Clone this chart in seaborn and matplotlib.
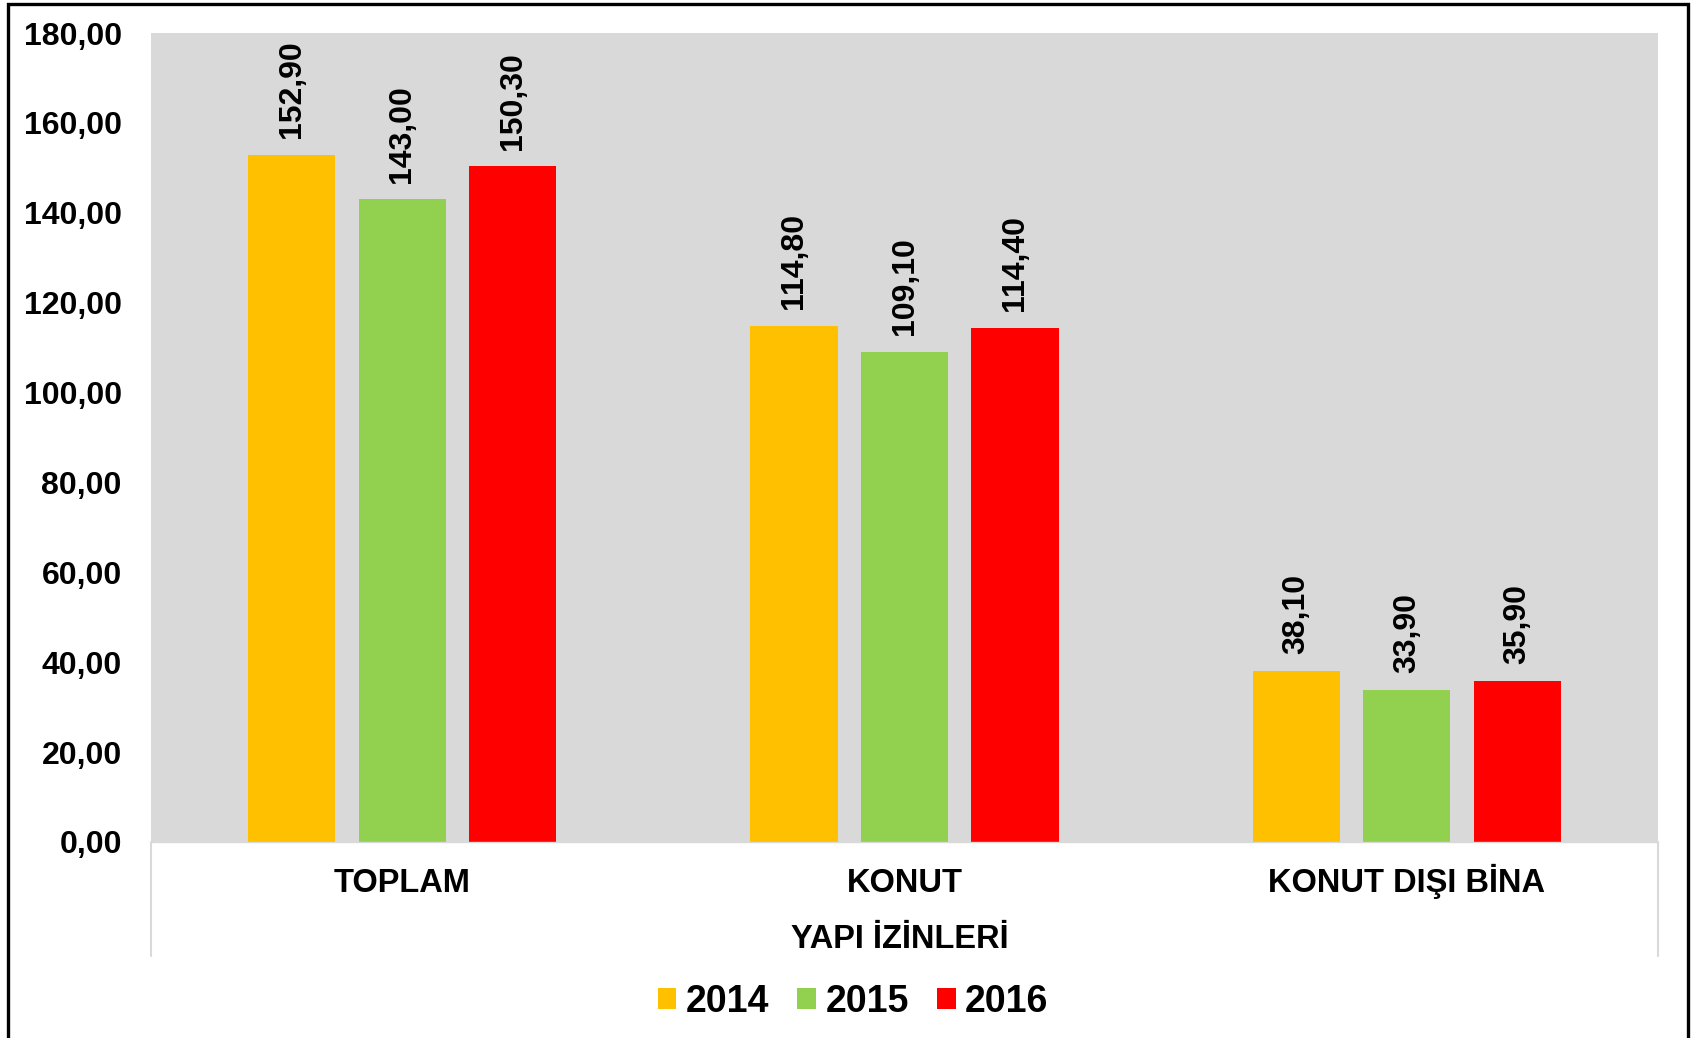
import matplotlib
matplotlib.use("Agg")
import matplotlib.pyplot as plt
import seaborn as sns
import pandas as pd
from matplotlib.ticker import FuncFormatter, MultipleLocator
from matplotlib.patches import Patch
from matplotlib.lines import Line2D

categories = ["TOPLAM", "KONUT", "KONUT DIŞI BİNA"]
years = ["2014", "2015", "2016"]
values_2014 = [152.90, 114.80, 38.10]
values_2015 = [143.00, 109.10, 33.90]
values_2016 = [150.30, 114.40, 35.90]
colors = ["#FFC000", "#92D050", "#FF0000"]
x_title = "YAPI İZİNLERİ"

rows = []
for yr, vals in zip(years, [values_2014, values_2015, values_2016]):
    for c, v in zip(categories, vals):
        rows.append({"cat": c, "year": yr, "val": v})
df = pd.DataFrame(rows)

sns.set_theme(style="white")
plt.rcParams["font.family"] = ["Liberation Sans", "DejaVu Sans"]
plt.rcParams["font.weight"] = "bold"
plt.rcParams["text.color"] = "black"
plt.rcParams["xtick.color"] = "black"
plt.rcParams["ytick.color"] = "black"

W, H = 1692, 1038
fig = plt.figure(figsize=(W / 100, H / 100), dpi=100)
L, R, B, T = 151, 1658, 842, 33
ax = fig.add_axes([L / W, 1 - B / H, (R - L) / W, (B - T) / H])
ax.set_facecolor("#D9D9D9")

sns.barplot(data=df, x="cat", y="val", hue="year", order=categories,
            hue_order=years, palette=colors, width=0.66, gap=0.21,
            saturation=1, ax=ax, legend=False, errorbar=None, linewidth=0)

for cont in ax.containers:
    ax.bar_label(cont, labels=[f"{v:.2f}".replace(".", ",") for v in cont.datavalues],
                 rotation=90, padding=12, fontsize=23, fontweight="bold", color="black")

ax.set_xlim(-0.5, 2.5)
ax.set_ylim(0, 180)
ax.yaxis.set_major_locator(MultipleLocator(20))
ax.yaxis.set_major_formatter(FuncFormatter(lambda v, p: f"{v:.2f}".replace(".", ",")))
ax.tick_params(axis="y", length=0, pad=21, labelsize=23, labelcolor="black")
ax.tick_params(axis="x", length=0, pad=36, labelsize=23.5, labelcolor="black")
for lab in ax.get_xticklabels():
    lab.set_fontweight("bold")
    lab.set_verticalalignment("baseline")
for lab in ax.get_yticklabels():
    lab.set_fontweight("bold")
ax.set_xlabel("")
ax.set_ylabel("")
for s in ax.spines.values():
    s.set_visible(False)
ax.grid(False)

fig.text(900 / W, 1 - 948 / H, x_title, ha="center", va="baseline",
         fontsize=23.5, fontweight="bold", color="black")

# light outline of plot area extension
for xp in (L, R):
    fig.add_artist(Line2D([xp / W, xp / W], [1 - B / H, 1 - 956 / H],
                          color="#D9D9D9", lw=1.5))
fig.add_artist(Line2D([L / W, R / W], [1 - B / H, 1 - B / H], color="#D9D9D9", lw=1.0))

# outer border
bx0, bx1, by0 = 7.5 / W, 1687.5 / W, 1 - 3.5 / H
fig.add_artist(Line2D([bx0, bx0, bx1, bx1], [-0.01, by0, by0, -0.01],
                      color="black", lw=2.4, solid_joinstyle="miter"))

handles = [Patch(facecolor=c, edgecolor="none") for c in colors]
fig.legend(handles, years, loc="center", bbox_to_anchor=(853 / W, 1 - 1002 / H),
           ncol=3, frameon=False, prop={"size": 27, "weight": "bold"},
           handlelength=0.5, handleheight=0.5, handletextpad=0.25,
           columnspacing=0.75, borderaxespad=0, labelcolor="black")

fig.savefig("out.png", dpi=100)
